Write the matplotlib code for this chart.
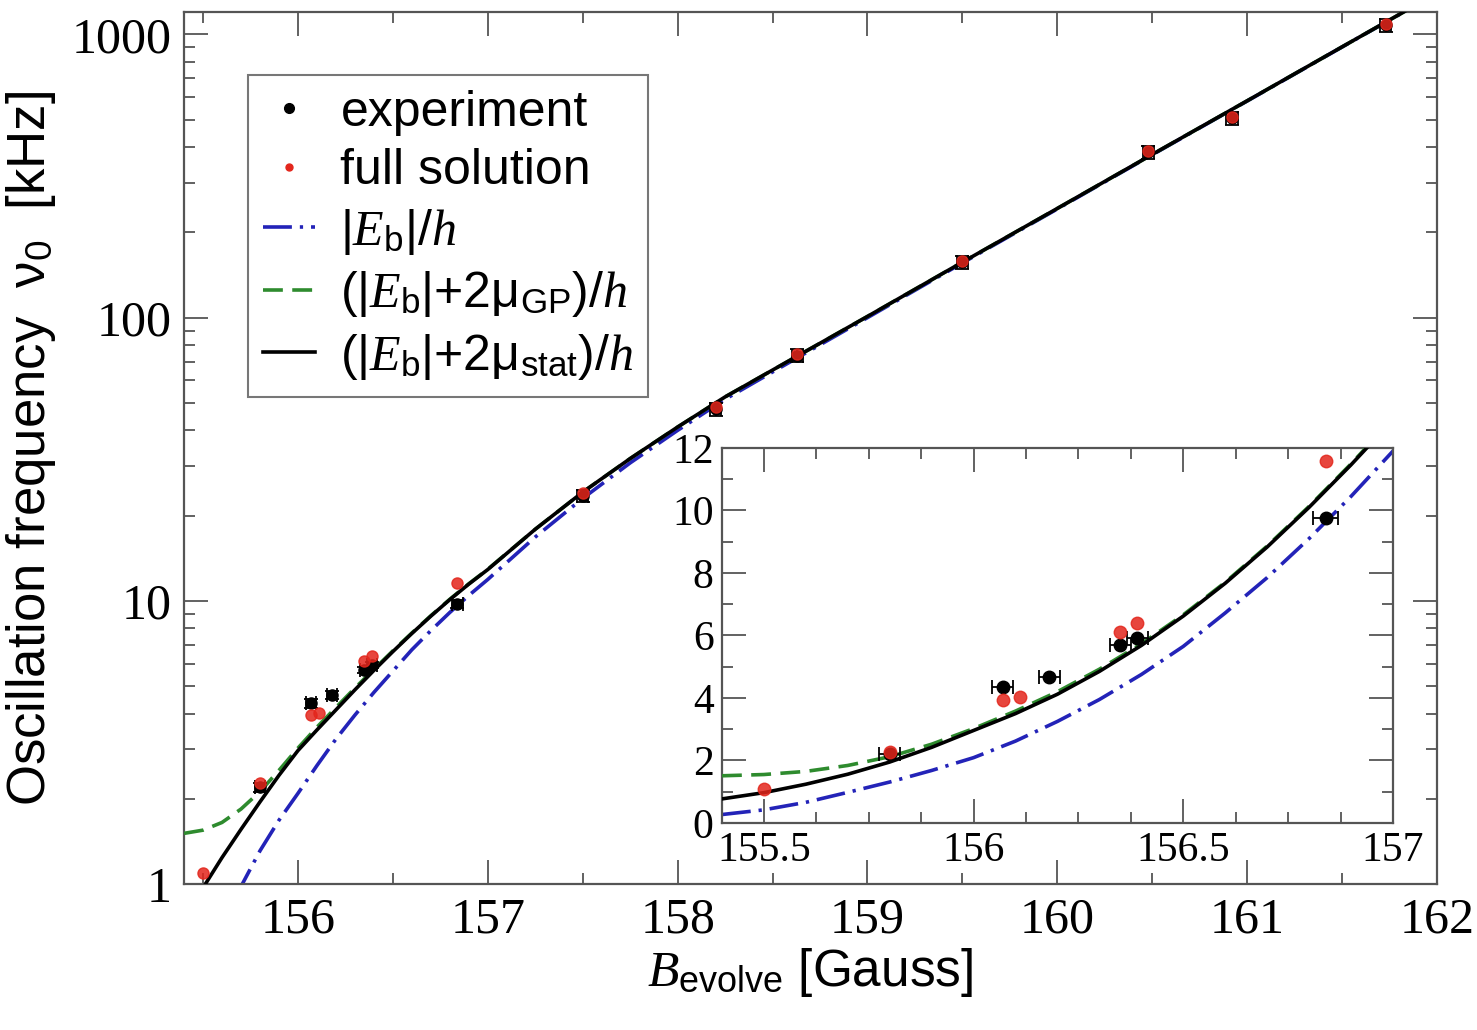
import matplotlib
matplotlib.use("Agg")
import matplotlib.pyplot as plt
from matplotlib.ticker import MultipleLocator, FixedLocator, LogLocator, FuncFormatter, NullFormatter

plt.rcParams['font.family'] = ['Liberation Sans', 'DejaVu Sans']
plt.rcParams['mathtext.fontset'] = 'custom'
plt.rcParams['mathtext.rm'] = 'Liberation Sans'
plt.rcParams['mathtext.sf'] = 'Liberation Sans'
plt.rcParams['mathtext.it'] = 'Liberation Serif:italic'
plt.rcParams['mathtext.bf'] = 'Liberation Sans:bold'

# theory curves
B_th = [155.40, 155.50, 155.60, 155.70, 155.80, 155.90, 156.00, 156.10, 156.20,
        156.30, 156.40, 156.50, 156.60, 156.70, 156.80, 156.90, 157.00, 157.25,
        157.50, 157.75, 158.00, 158.25, 158.50, 159.00, 159.50, 160.00, 160.50,
        161.00, 161.50, 162.00]
nu_Eb = [0.27, 0.42, 0.66, 0.98, 1.31, 1.68, 2.09, 2.62, 3.25, 3.95, 4.75, 5.65,
         6.72, 7.85, 9.10, 10.45, 11.90, 16.8, 23.0, 30.7, 40.0, 51.5, 64.3, 100,
         156, 242, 376, 582, 903, 1398]
nu_GP = [1.51, 1.55, 1.65, 1.84, 2.12, 2.52, 3.02, 3.58, 4.20, 4.92, 5.73, 6.66,
         7.70, 8.86, 10.13, 11.49, 12.93, 17.9, 24.2, 31.8, 41.1, 52.5, 65.3, 101,
         157, 243, 377, 583, 904, 1400]
nu_stat = [0.77, 0.97, 1.24, 1.56, 1.95, 2.42, 2.96, 3.50, 4.12, 4.85, 5.68, 6.62,
           7.67, 8.83, 10.10, 11.46, 12.90, 17.9, 24.2, 31.8, 41.1, 52.5, 65.3, 101,
           157, 243, 377, 583, 904, 1400]

# experiment
B_exp = [155.80, 156.07, 156.18, 156.35, 156.39, 156.84, 157.50, 158.20, 158.63,
         159.50, 160.48, 160.92, 161.73]
nu_exp = [2.20, 4.35, 4.67, 5.70, 5.92, 9.76, 23.5, 47.5, 73.5, 157, 384, 506, 1077]
B_exp_err = [0.025, 0.025, 0.025, 0.025, 0.025, 0.03, 0.03, 0.03, 0.03, 0.03,
             0.03, 0.03, 0.03]
nu_exp_err = [0.08, 0.15, 0.15, 0.15, 0.15, 0.3, 1.2, 2.5, 4.0, 8, 20, 26, 55]

# full solution
B_full = [155.50, 155.80, 156.07, 156.11, 156.35, 156.39, 156.84, 157.50, 158.20,
          158.63, 159.50, 160.48, 160.92, 161.73]
nu_full = [1.09, 2.27, 3.94, 4.03, 6.11, 6.40, 11.58, 24.0, 48.5, 74.5, 159, 388,
           510, 1085]

main_xticks = [156, 157, 158, 159, 160, 161, 162]
main_yticks = [1, 10, 100, 1000]
inset_xticks = [155.5, 156, 156.5, 157]
inset_yticks = [0, 2, 4, 6, 8, 10, 12]

blue = '#2323b8'
green = '#2e8b2e'
red = '#e3261c'
spine = '#555555'

fig = plt.figure(figsize=(14.77, 10.30), dpi=100)
ax = fig.add_axes([0.1246, 0.1417, 0.8483, 0.8466])


def draw(a, ms, lw, yerr):
    a.plot(B_th, nu_Eb, color=blue, lw=lw, ls=(0, (8.0, 2.2, 0.9, 2.2)),
           label=r'$|E_{\mathrm{b}}|/h$', zorder=2)
    a.plot(B_th, nu_GP, color=green, lw=lw, ls=(0, (5.5, 2.6)),
           label=r'$(|E_{\mathrm{b}}|$+2$\mathrm{\mu}_{\mathrm{GP}})/h$', zorder=3)
    a.plot(B_th, nu_stat, color='black', lw=lw, ls='-',
           label=r'$(|E_{\mathrm{b}}|$+2$\mathrm{\mu}_{\mathrm{stat}})/h$', zorder=4)
    a.errorbar(B_exp, nu_exp, xerr=B_exp_err, yerr=yerr, fmt='o', color='black',
               ms=ms, elinewidth=1.3, capsize=5, capthick=1.3, zorder=5)
    a.plot(B_full, nu_full, 'o', color=red, ms=ms, alpha=0.85, zorder=6)


draw(ax, 8, 2.6, nu_exp_err)
ax.set_yscale('log')
ax.set_xlim(155.4, 162)
ax.set_ylim(1, 1200)
ax.xaxis.set_major_locator(FixedLocator(main_xticks))
ax.xaxis.set_minor_locator(MultipleLocator(0.5))
ax.yaxis.set_major_locator(FixedLocator(main_yticks))
ax.yaxis.set_minor_locator(LogLocator(base=10, subs=range(2, 10)))
ax.yaxis.set_minor_formatter(NullFormatter())
ax.xaxis.set_major_formatter(FuncFormatter(lambda v, p: '%g' % v))
ax.yaxis.set_major_formatter(FuncFormatter(lambda v, p: '%g' % v))
ax.tick_params(which='both', direction='in', top=True, right=True, color=spine,
               width=1.3)
ax.tick_params(which='major', length=17, labelsize=36, pad=9)
ax.tick_params(which='minor', length=8)
for lab in ax.get_xticklabels() + ax.get_yticklabels():
    lab.set_family('Liberation Serif')
for s in ax.spines.values():
    s.set_color(spine)
    s.set_linewidth(1.6)

ax.set_xlabel(r'$B_{\mathrm{evolve}}$ [Gauss]', fontsize=37, labelpad=2)
ax.set_ylabel(r'Oscillation frequency  $\mathrm{\nu}_0$  [kHz]', fontsize=38, labelpad=10)

# legend with dots for the points
h, l = ax.get_legend_handles_labels()
exp_h = plt.Line2D([], [], ls='none', marker='o', color='black', ms=7)
full_h = plt.Line2D([], [], ls='none', marker='o', color=red, ms=5)
leg = ax.legend([exp_h, full_h] + h, ['experiment', 'full solution'] + l,
                loc='upper left', bbox_to_anchor=(0.051, 0.928), borderaxespad=0,
                fontsize=36, frameon=True, fancybox=False, handlelength=1.05,
                handletextpad=0.5, labelspacing=0.25, borderpad=0.3)
leg.get_frame().set_edgecolor(spine)
leg.get_frame().set_linewidth(1.5)

# inset
ins = fig.add_axes([0.4888, 0.2010, 0.4543, 0.3641])
draw(ins, 9, 2.6, None)
ins.set_xlim(155.4, 157)
ins.set_ylim(0, 12)
ins.xaxis.set_major_locator(FixedLocator(inset_xticks))
ins.xaxis.set_minor_locator(MultipleLocator(0.125))
ins.yaxis.set_major_locator(FixedLocator(inset_yticks))
ins.yaxis.set_minor_locator(MultipleLocator(1))
ins.xaxis.set_major_formatter(FuncFormatter(lambda v, p: '%g' % v))
ins.tick_params(which='both', direction='in', top=True, right=True, color=spine,
                width=1.3)
ins.tick_params(which='major', length=17, labelsize=30, pad=6)
ins.tick_params(which='minor', length=8)
for lab in ins.get_xticklabels() + ins.get_yticklabels():
    lab.set_family('Liberation Serif')
for s in ins.spines.values():
    s.set_color(spine)
    s.set_linewidth(1.6)

fig.savefig('out.png', dpi=100)
